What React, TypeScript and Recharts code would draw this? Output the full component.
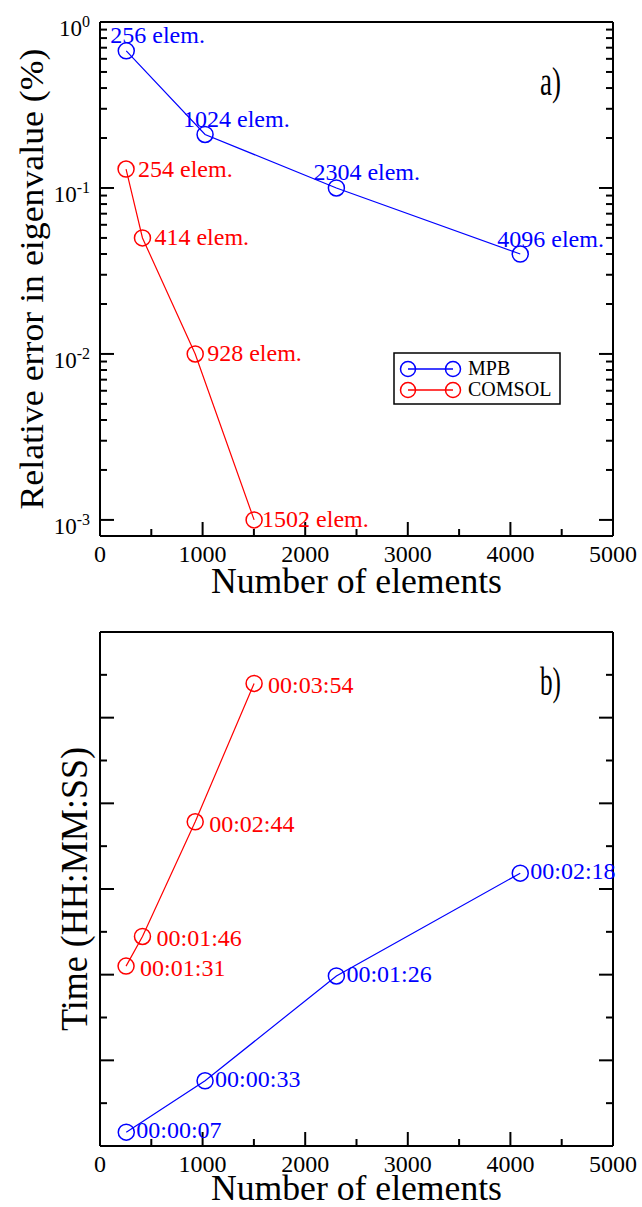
import React from 'react';
import { LineChart, Line, XAxis, YAxis, Legend, LabelList, Label } from 'recharts';

const FONT = '"Liberation Serif", "Times New Roman", Times, serif';
const BLUE = '#0000ff';
const RED = '#ff0000';

const seriesNames = ['MPB', 'COMSOL'];

// a) relative error (%) vs number of elements
const mpbElements = [256, 1024, 2304, 4096];
const mpbError = [0.67, 0.21, 0.1, 0.04];
const comsolElements = [254, 414, 928, 1502];
const comsolError = [0.13, 0.05, 0.01, 0.001];

// b) run time in seconds
const mpbSeconds = [7, 33, 86, 138];
const comsolSeconds = [91, 106, 164, 234];

const elementTicks = [0, 500, 1000, 1500, 2000, 2500, 3000, 3500, 4000, 4500, 5000];
const elementTickLabels = ['0', '1000', '2000', '3000', '4000', '5000'];
const errorDecades = [0.001, 0.01, 0.1, 1];
const errorMultipliers = [1, 2, 3, 4, 5, 6, 7, 8, 9];
const errorTicks = errorDecades
  .flatMap((d) => errorMultipliers.map((m) => Number((m * d).toPrecision(3))))
  .filter((v) => v <= 1);
const timeMax = 260;
const timeTicks = Array.from({ length: 13 }, (_, i) => (i * timeMax) / 12);

// label nudges (px), kept apart from the data
const mpbLabelDx = [-16, -22, -23, -23];
const comsolLabelDx = [12, 12, 12, 8];

const mpbErrRows = mpbElements.map((n, i) => ({ n, v: mpbError[i] }));
const comsolErrRows = comsolElements.map((n, i) => ({ n, v: comsolError[i] }));
const mpbTimeRows = mpbElements.map((n, i) => ({ n, t: mpbSeconds[i] }));
const comsolTimeRows = comsolElements.map((n, i) => ({ n, t: comsolSeconds[i] }));

const hms = (s: number) => {
  const pad = (k: number) => String(k).padStart(2, '0');
  return `${pad(Math.floor(s / 3600))}:${pad(Math.floor((s % 3600) / 60))}:${pad(s % 60)}`;
};

const xTick = (inward: number, showLabel: boolean) => (p: any) => {
  const v = p.payload.value;
  const major = v % 1000 === 0;
  return (
    <g>
      <line x1={p.x} x2={p.x} y1={p.y} y2={p.y + inward * (major ? 14 : 7)} stroke="#000" strokeWidth={2} />
      {showLabel && elementTickLabels.includes(String(v)) && (
        <text x={p.x} y={p.y + 26} textAnchor="middle" fontFamily={FONT} fontSize={24} fill="#000">
          {String(v)}
        </text>
      )}
    </g>
  );
};

const logTick = (inward: number, showLabel: boolean) => (p: any) => {
  const v = p.payload.value;
  const major = errorDecades.includes(v);
  return (
    <g>
      <line x1={p.x} x2={p.x + inward * (major ? 14 : 7)} y1={p.y} y2={p.y} stroke="#000" strokeWidth={2} />
      {showLabel && major && (
        <text x={p.x - 10} y={p.y + 14} textAnchor="end" fontFamily={FONT} fontSize={23} fill="#000">
          10
          <tspan dy={-9} fontSize={16}>
            {Math.round(Math.log10(v))}
          </tspan>
        </text>
      )}
    </g>
  );
};

const timeTick = (inward: number) => (p: any) => {
  const major = p.index % 2 === 0;
  return <line x1={p.x} x2={p.x + inward * (major ? 14 : 7)} y1={p.y} y2={p.y} stroke="#000" strokeWidth={2} />;
};

const elemLabel = (color: string, dxs: number[], dy: number) => (p: any) => (
  <text x={p.x + dxs[p.index]} y={p.y + dy} fill={color} fontFamily={FONT} fontSize={24}>
    {`${p.value} elem.`}
  </text>
);

const timeLabel = (color: string, dx: number, dy: number) => (p: any) => (
  <text x={p.x + dx} y={p.y + dy} fill={color} fontFamily={FONT} fontSize={24}>
    {hms(p.value)}
  </text>
);

const xTitle = (dy: number) => (p: any) => {
  const vb = p.viewBox;
  return (
    <text x={vb.x + vb.width / 2} y={vb.y + dy} textAnchor="middle" fontFamily={FONT} fontSize={35} textLength={291} lengthAdjust="spacingAndGlyphs" fill="#000">
      Number of elements
    </text>
  );
};

const yTitle = (text: string, bx: number, size: number, len: number) => (p: any) => {
  const vb = p.viewBox;
  const x = vb.x + bx;
  const y = vb.y + vb.height / 2;
  return (
    <text x={x} y={y} transform={`rotate(-90, ${x}, ${y})`} textAnchor="middle" fontFamily={FONT} fontSize={size} textLength={len} lengthAdjust="spacingAndGlyphs" fill="#000">
      {text}
    </text>
  );
};

const panelTag = (tag: string, dy: number) => (p: any) => {
  const vb = p.viewBox;
  return (
    <text x={vb.x + vb.width - 73} y={vb.y + dy} fontFamily={FONT} fontSize={40} textLength={21} lengthAdjust="spacingAndGlyphs" fill="#000">
      {tag}
    </text>
  );
};

const renderLegend = (props: any) => {
  const raw = props.payload ?? [];
  const items = seriesNames.map((name) => raw.find((it: any) => it.value === name)).filter(Boolean);
  return (
    <svg width={168} height={53} style={{ display: 'block' }}>
      <rect x={1} y={1} width={166} height={51} fill="#fff" stroke="#000" strokeWidth={1.5} />
      {items.map((it: any, i: number) => {
        const cy = 17 + i * 21;
        return (
          <g key={it.value}>
            <line x1={15} x2={60} y1={cy} y2={cy} stroke={it.color} strokeWidth={1.3} />
            <circle cx={15} cy={cy} r={7.5} fill="none" stroke={it.color} strokeWidth={1.5} />
            <circle cx={60} cy={cy} r={7.5} fill="none" stroke={it.color} strokeWidth={1.5} />
            <text x={75} y={cy + 6} fontFamily={FONT} fontSize={20} fill="#000">
              {it.value}
            </text>
          </g>
        );
      })}
    </svg>
  );
};

const frameLine = { stroke: '#000', strokeWidth: 2 };

export default function App() {
  return (
    <div style={{ position: 'absolute', left: 0, top: 0, width: 642, background: '#fff' }}>
      <LineChart width={642} height={600} margin={{ top: 22, right: 29, bottom: 0, left: 0 }}>
        <XAxis xAxisId="b" dataKey="n" type="number" domain={[0, 5000]} ticks={elementTicks} interval={0} allowDataOverflow
          orientation="bottom" height={64} axisLine={frameLine} tickLine={false} tickSize={0} tickMargin={0} tick={xTick(-1, true)}>
          <Label content={xTitle(57)} />
        </XAxis>
        <XAxis xAxisId="t" type="number" domain={[0, 5000]} ticks={elementTicks} interval={0} allowDataOverflow
          orientation="top" mirror height={30} axisLine={frameLine} tickLine={false} tickSize={0} tickMargin={0} tick={xTick(1, false)} />
        <YAxis yAxisId="l" type="number" scale="log" domain={[0.0008, 1]} ticks={errorTicks} interval={0} allowDataOverflow
          orientation="left" width={100} axisLine={frameLine} tickLine={false} tickSize={0} tickMargin={0} tick={logTick(1, true)}>
          <Label content={yTitle('Relative error in eigenvalue (%)', 43, 33, 461)} />
        </YAxis>
        <YAxis yAxisId="r" type="number" scale="log" domain={[0.0008, 1]} ticks={errorTicks} interval={0} allowDataOverflow
          orientation="right" mirror width={60} axisLine={frameLine} tickLine={false} tickSize={0} tickMargin={0} tick={logTick(-1, false)}>
          <Label content={panelTag('a)', 73)} />
        </YAxis>
        <Line xAxisId="b" yAxisId="l" name="MPB" data={mpbErrRows} dataKey="v" stroke={BLUE} strokeWidth={1.2}
          dot={{ r: 8, fill: 'none', stroke: BLUE, strokeWidth: 1.5 }} isAnimationActive={false}>
          <LabelList dataKey="n" content={elemLabel(BLUE, mpbLabelDx, -7.5)} />
        </Line>
        <Line xAxisId="b" yAxisId="l" name="COMSOL" data={comsolErrRows} dataKey="v" stroke={RED} strokeWidth={1.2}
          dot={{ r: 8, fill: 'none', stroke: RED, strokeWidth: 1.5 }} isAnimationActive={false}>
          <LabelList dataKey="n" content={elemLabel(RED, comsolLabelDx, 7.5)} />
        </Line>
        <Legend layout="horizontal" verticalAlign="middle" align="center" content={renderLegend}
          wrapperStyle={{ left: 393, top: 352, width: 168, height: 53 }} />
      </LineChart>

      <LineChart width={642} height={607} margin={{ top: 32, right: 29, bottom: 0, left: 0 }}>
        <XAxis xAxisId="b" dataKey="n" type="number" domain={[0, 5000]} ticks={elementTicks} interval={0} allowDataOverflow
          orientation="bottom" height={61} axisLine={frameLine} tickLine={false} tickSize={0} tickMargin={0} tick={xTick(-1, true)}>
          <Label content={xTitle(54)} />
        </XAxis>
        <XAxis xAxisId="t" type="number" domain={[0, 5000]} ticks={elementTicks} interval={0} allowDataOverflow
          orientation="top" mirror height={30} axisLine={frameLine} tickLine={false} tickSize={0} tickMargin={0} tick={xTick(1, false)} />
        <YAxis yAxisId="l" type="number" domain={[0, timeMax]} ticks={timeTicks} interval={0} allowDataOverflow
          orientation="left" width={100} axisLine={frameLine} tickLine={false} tickSize={0} tickMargin={0} tick={timeTick(1)}>
          <Label content={yTitle('Time (HH:MM:SS)', 87, 37, 284)} />
        </YAxis>
        <YAxis yAxisId="r" type="number" domain={[0, timeMax]} ticks={timeTicks} interval={0} allowDataOverflow
          orientation="right" mirror width={60} axisLine={frameLine} tickLine={false} tickSize={0} tickMargin={0} tick={timeTick(-1)}>
          <Label content={panelTag('b)', 63)} />
        </YAxis>
        <Line xAxisId="b" yAxisId="l" name="COMSOL" data={comsolTimeRows} dataKey="t" stroke={RED} strokeWidth={1.2}
          dot={{ r: 8, fill: 'none', stroke: RED, strokeWidth: 1.5 }} isAnimationActive={false}>
          <LabelList dataKey="t" content={timeLabel(RED, 14, 10)} />
        </Line>
        <Line xAxisId="b" yAxisId="l" name="MPB" data={mpbTimeRows} dataKey="t" stroke={BLUE} strokeWidth={1.2}
          dot={{ r: 8, fill: 'none', stroke: BLUE, strokeWidth: 1.5 }} isAnimationActive={false}>
          <LabelList dataKey="t" content={timeLabel(BLUE, 10, 6)} />
        </Line>
      </LineChart>
    </div>
  );
}
